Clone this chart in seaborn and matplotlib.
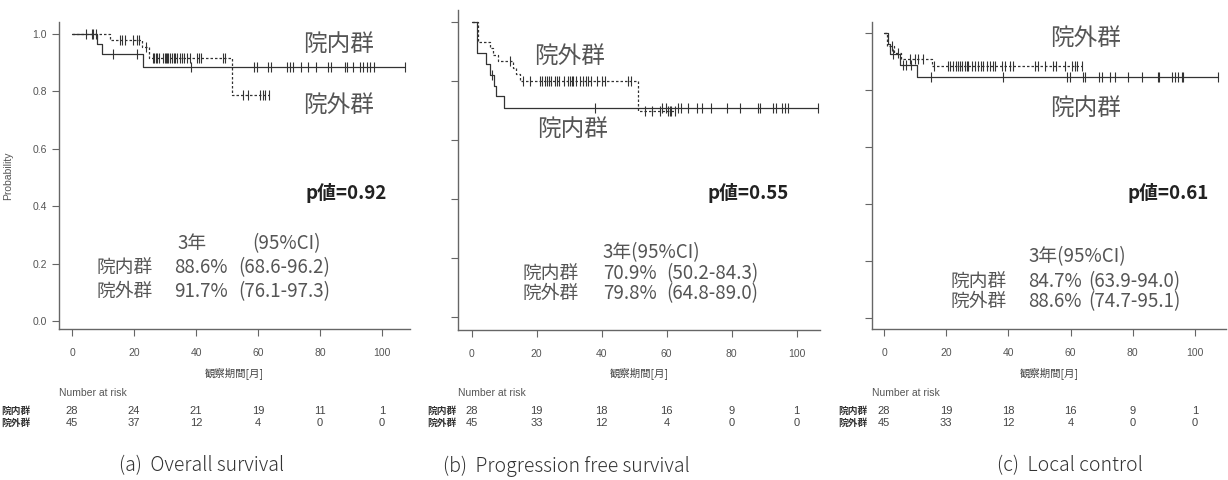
import numpy as np
import matplotlib
matplotlib.use('Agg')
import matplotlib.pyplot as plt
import matplotlib.transforms as mtransforms
import seaborn as sns

# ---- data: months / survival probability ----
risk_times = [0, 20, 40, 60, 80, 100]
groups = ['院内群', '院外群']

# (a) Overall survival
os_in_event_t = [8.0, 9.6, 23.0]
os_in_event_s = [0.964, 0.929, 0.886]
os_in_censor = [6.3, 13.3, 21.1, 38.3, 58.7, 59.6, 63.3, 64.1, 69.2, 70.3, 71.4, 73.8, 76.0,
                78.7, 82.7, 83.4, 88.1, 88.6, 90.5, 92.9, 94.0, 95.0, 96.1, 97.4, 107.4]
os_out_event_t = [12.3, 22.5, 24.9, 51.5]
os_out_event_s = [0.978, 0.955, 0.917, 0.786]
os_out_censor = [4.5, 6.9, 7.7, 15.5, 16.0, 17.0, 19.8, 20.9, 21.7, 23.8, 26.2, 26.5, 27.1, 27.3,
                 28.0, 29.5, 30.0, 30.2, 30.5, 31.1, 31.5, 32.2, 33.0, 33.2, 34.0, 34.8, 35.4,
                 36.0, 37.0, 38.0, 40.2, 40.8, 41.5, 48.6, 49.4, 55.3, 56.9, 60.5, 61.7, 62.3, 63.5]
os_in_risk = [28, 24, 21, 19, 11, 1]
os_out_risk = [45, 37, 12, 4, 0, 0]

# (b) Progression free survival
pfs_in_event_t = [1.8, 4.5, 5.6, 6.8, 7.5, 10.0]
pfs_in_event_s = [0.893, 0.857, 0.821, 0.784, 0.747, 0.709]
pfs_in_censor = [6.2, 37.9, 58.5, 59.8, 63.6, 64.3, 66.5, 69.2, 70.8, 73.8, 78.5, 82.6, 88.2,
                 88.7, 92.6, 93.8, 95.4, 96.4, 97.4, 106.6]
pfs_out_event_t = [2.0, 5.6, 6.7, 8.2, 12.8, 13.8, 14.9, 51.3]
pfs_out_event_s = [0.933, 0.911, 0.889, 0.867, 0.845, 0.822, 0.798, 0.698]
pfs_out_censor = [11.8, 15.9, 18.0, 21.0, 21.8, 22.5, 23.3, 23.9, 24.5, 25.5, 26.2, 27.0, 28.5,
                  29.5, 30.2, 30.8, 31.3, 32.0, 33.3, 34.2, 35.2, 35.9, 36.8, 38.5, 40.0, 41.0,
                  48.2, 48.9, 53.3, 55.4, 57.9, 60.3, 61.0, 61.5, 62.5]
pfs_in_risk = [28, 19, 18, 16, 9, 1]
pfs_out_risk = [45, 33, 12, 4, 0, 0]

# (c) Local control
lc_in_event_t = [1.2, 1.8, 5.0, 10.5]
lc_in_event_s = [0.964, 0.929, 0.889, 0.847]
lc_in_censor = [3.0, 6.0, 7.0, 8.5, 15.0, 38.4, 58.9, 59.8, 63.9, 64.6, 69.2, 70.0, 72.7, 74.3,
                78.6, 82.9, 88.2, 88.5, 92.5, 93.6, 94.6, 95.7, 96.2, 107.5]
lc_out_event_t = [1.0, 3.2, 5.5, 15.3]
lc_out_event_s = [0.956, 0.933, 0.911, 0.886]
lc_out_censor = [2.4, 4.5, 8.4, 10.0, 11.0, 12.6, 15.9, 20.5, 21.2, 22.3, 23.2, 23.9, 24.5, 25.2,
                 26.0, 26.6, 27.1, 28.3, 29.2, 30.3, 31.1, 31.9, 33.0, 34.1, 34.9, 35.7, 37.8,
                 38.8, 40.5, 41.6, 48.6, 49.6, 51.8, 54.4, 55.3, 58.2, 60.4, 61.4, 62.2, 63.6]
lc_in_risk = [28, 19, 18, 16, 9, 1]
lc_out_risk = [45, 33, 12, 4, 0, 0]

# 3-year rates and p values
rate_3y = {'a': ['88.6%', '91.7%'], 'b': ['70.9%', '79.8%'], 'c': ['84.7%', '88.6%']}
ci_3y = {'a': ['(68.6-96.2)', '(76.1-97.3)'], 'b': ['(50.2-84.3)', '(64.8-89.0)'],
         'c': ['(63.9-94.0)', '(74.7-95.1)']}
p_values = {'a': '0.92', 'b': '0.55', 'c': '0.61'}
captions = {'a': '(a)  Overall survival', 'b': '(b)  Progression free survival',
            'c': '(c)  Local control'}

# ---- style ----
sns.set_theme(style='white')
JP = ['Noto Sans CJK JP', 'DejaVu Sans']
SANS = ['Liberation Sans', 'DejaVu Sans']
plt.rcParams['font.family'] = JP
LINE = '#333333'
GREY = '#555555'
AXC = '#666666'

W, H = 1228, 480
fig = plt.figure(figsize=(W / 100, H / 100), dpi=100)
fig.patch.set_facecolor('white')
# pixel coords measured from the top-left corner
px = mtransforms.Affine2D().scale(1 / W, -1 / H).translate(0, 1) + fig.transFigure


def km_steps(event_t, event_s, censor):
    x = [0.0] + list(event_t) + [max(max(censor), event_t[-1])]
    y = [1.0] + list(event_s) + [event_s[-1]]
    return x, y


def surv_at(t, event_t, event_s):
    idx = np.searchsorted(event_t, t, side='right')
    return np.r_[1.0, event_s][idx]


panels = {
    'a': dict(rect=(59, 22, 410, 329), xlim=(-4.2, 109.0), ylim=(-0.028, 1.042),
              curves=[(os_in_event_t, os_in_event_s, os_in_censor, '-'),
                      (os_out_event_t, os_out_event_s, os_out_censor, (0, (2, 1.6)))],
              risk=[os_in_risk, os_out_risk],
              grp_lbl=[(86, 0.962), (86, 0.752)],
              p_pos=(88.5, 0.447), head=(33.9, 0.27, '3年', 58.0, '(95%CI)'),
              rows=(8.0, 32.8, 53.6, 0.187, 0.104), cap_x=202, risk_lbl_x=1),
    'b': dict(rect=(458, 10, 820, 330), xlim=(-4.2, 107.2), ylim=(-0.044, 1.040),
              curves=[(pfs_in_event_t, pfs_in_event_s, pfs_in_censor, '-'),
                      (pfs_out_event_t, pfs_out_event_s, pfs_out_censor, (0, (2, 1.6)))],
              risk=[pfs_in_risk, pfs_out_risk],
              grp_lbl=[(30.9, 0.634), (30.2, 0.882)],
              p_pos=(85, 0.42), head=(40.4, 0.217, '3年(95%CI)', None, None),
              rows=(15.6, 40.4, 60.0, 0.147, 0.079), cap_x=566, risk_lbl_x=427),
    'c': dict(rect=(872, 22, 1226, 329), xlim=(-3.9, 110.0), ylim=(-0.037, 1.040),
              curves=[(lc_in_event_t, lc_in_event_s, lc_in_censor, '-'),
                      (lc_out_event_t, lc_out_event_s, lc_out_censor, (0, (2, 1.6)))],
              risk=[lc_in_risk, lc_out_risk],
              grp_lbl=[(64.9, 0.737), (64.9, 0.982)],
              p_pos=(91.3, 0.439), head=(46.3, 0.216, '3年(95%CI)', None, None),
              rows=(21.2, 46.3, 65.6, 0.128, 0.058), cap_x=1070, risk_lbl_x=838),
}

for key, pn in panels.items():
    l, t, r, b = pn['rect']
    ax = fig.add_axes([l / W, 1 - b / H, (r - l) / W, (b - t) / H])
    ax.set_facecolor('white')

    for ev_t, ev_s, cens, ls in pn['curves']:
        x, y = km_steps(ev_t, ev_s, cens)
        sns.lineplot(x=x, y=y, ax=ax, drawstyle='steps-post', color=LINE, lw=0.9,
                     linestyle=ls, estimator=None, sort=False)
        sns.scatterplot(x=cens, y=surv_at(cens, ev_t, ev_s), ax=ax, marker='|', s=50,
                        color=LINE, linewidth=0.8, zorder=3)

    ax.set_xlim(*pn['xlim'])
    ax.set_ylim(*pn['ylim'])
    ax.set_xticks(risk_times)
    ax.set_yticks([0, 0.2, 0.4, 0.6, 0.8, 1.0])
    for s in ['top', 'right']:
        ax.spines[s].set_visible(False)
    for s in ['left', 'bottom']:
        ax.spines[s].set_color(AXC)
        ax.spines[s].set_linewidth(1.0)
    ax.tick_params(axis='both', direction='out', length=5, width=0.8, color=AXC,
                   labelcolor=GREY, labelsize=7.5, bottom=True, left=True)
    ax.tick_params(axis='x', pad=9)
    for lab in ax.get_xticklabels() + ax.get_yticklabels():
        lab.set_family(SANS)
    if key == 'a':
        ax.set_yticklabels(['0.0', '0.2', '0.4', '0.6', '0.8', '1.0'])
        ax.set_ylabel('Probability', fontsize=7.5, color=GREY, family=SANS)
        ax.yaxis.set_label_coords(-0.13, 0.5)
    else:
        ax.set_yticklabels([])
    ax.set_xlabel('')

    # group labels next to curves
    for g, (gx, gy) in zip(groups, pn['grp_lbl']):
        ax.text(gx, gy, g, ha='center', va='center', fontsize=17, color=GREY)
    ax.text(pn['p_pos'][0], pn['p_pos'][1], 'p値=' + p_values[key], ha='center',
            va='center', fontsize=13.5, fontweight='bold', color='#222222')

    # 3-year summary
    hx, hy, htxt, hx2, htxt2 = pn['head']
    ax.text(hx, hy, htxt, ha='left', va='center', fontsize=13.5, color=GREY)
    if htxt2:
        ax.text(hx2, hy, htxt2, ha='left', va='center', fontsize=13.5, color=GREY)
    lx, rx, cx, y1, y2 = pn['rows']
    for g, rate, ci, yy in zip(groups, rate_3y[key], ci_3y[key], [y1, y2]):
        ax.text(lx, yy, g, ha='left', va='center', fontsize=13.5, color=GREY)
        ax.text(rx, yy, rate, ha='left', va='center', fontsize=13.5, color=GREY)
        ax.text(cx, yy, ci, ha='left', va='center', fontsize=13.5, color=GREY)

    # x label, number at risk table, caption
    tr_axes = mtransforms.blended_transform_factory(ax.transAxes, px)
    tr_data = mtransforms.blended_transform_factory(ax.transData, px)
    ax.text(0.5, 373, '観察期間[月]', transform=tr_axes, ha='center', va='center',
            fontsize=7.5, color='#444444', clip_on=False)
    fig.text(l, 393, 'Number at risk', transform=px, ha='left', va='center', fontsize=7.5,
             color=GREY, family=SANS)
    for g, risk, yy in zip(groups, pn['risk'], [411, 423]):
        fig.text(pn['risk_lbl_x'], yy, g, transform=px, ha='left', va='center', fontsize=7,
                 fontweight='bold', color='#333333')
        for tm, n in zip(risk_times, risk):
            ax.text(tm, yy, str(n), transform=tr_data, ha='center', va='center', fontsize=8,
                    color='#444444', family=SANS, clip_on=False)
    fig.text(pn['cap_x'], 466, captions[key], transform=px, ha='center', va='center',
             fontsize=14, fontweight='light', color='#333333')

fig.savefig('out.png', dpi=100, facecolor='white')
